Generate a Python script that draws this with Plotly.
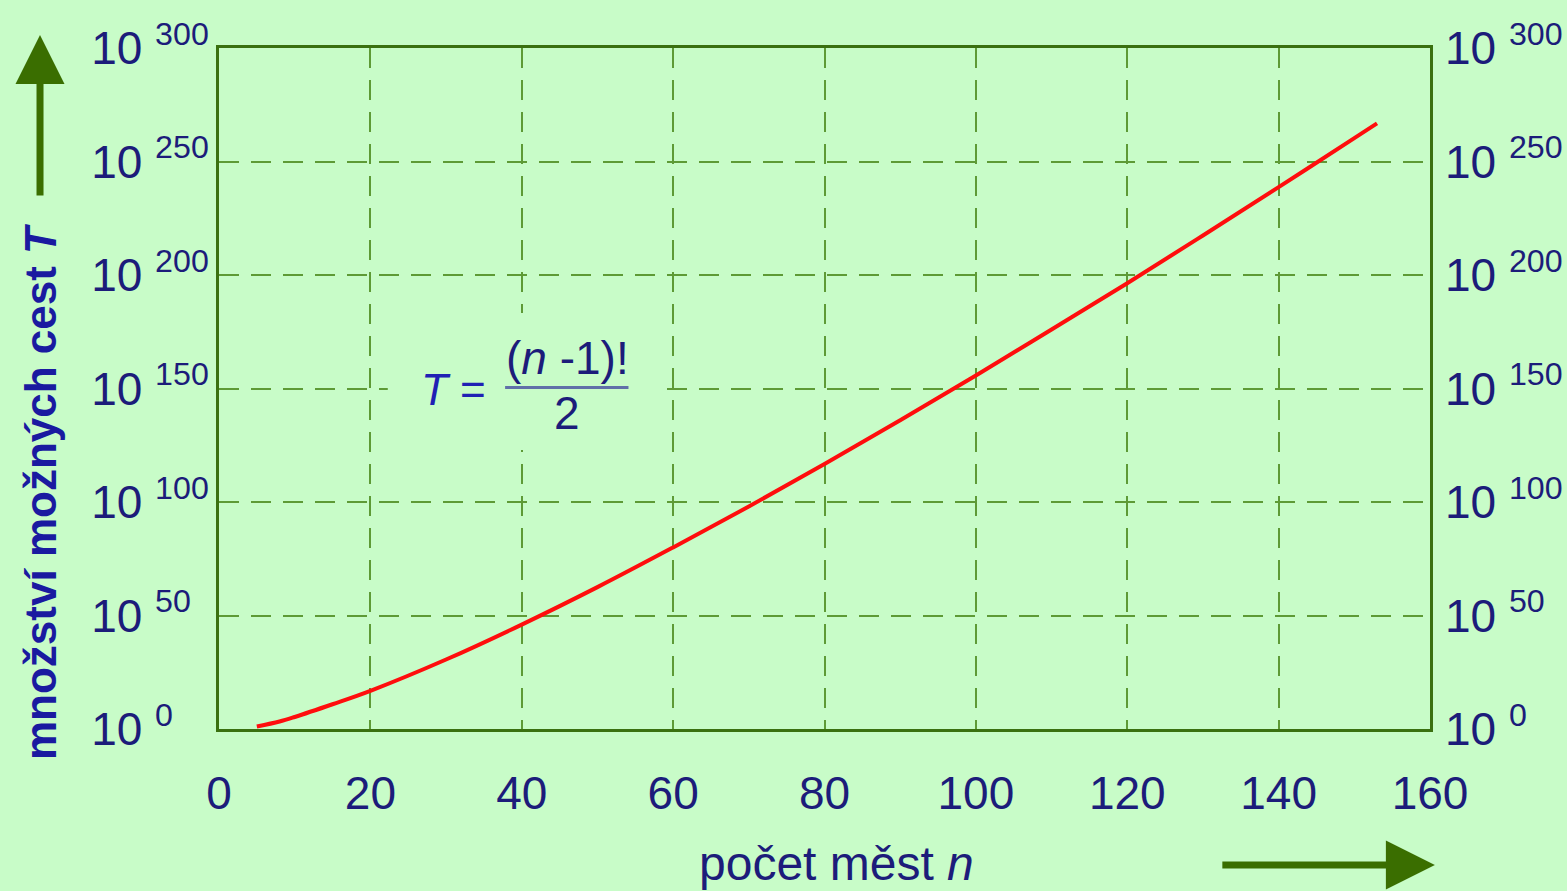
import plotly.graph_objects as go

# Number of cities n and the decimal exponent of T = (n-1)!/2
n_cities = [5, 8, 10, 15, 20, 30, 40, 50, 60, 70, 80, 90, 100, 110, 120, 130, 140, 150, 153]
log10_T = [1.1, 3.3, 5.3, 10.9, 16.8, 30.6, 46, 62.5, 80, 98, 116.7, 136, 155.7, 176, 196.4, 217.4, 238.7, 260.3, 266.8]

x_ticks = [0, 20, 40, 60, 80, 100, 120, 140, 160]
y_ticks = [0, 50, 100, 150, 200, 250, 300]

NBSP = "\u00a0"


def power_label(exp):
    # pad short exponents with half-digit spaces so every "10" lines up
    pad = NBSP * (2 * (3 - len(str(exp))))
    return "10 <sup>%d%s</sup>" % (exp, pad)


y_ticktext_left = [power_label(v) for v in y_ticks]
y_ticktext_right = ["10 <sup>%d</sup>" % v for v in y_ticks]

BG = "#c8fcc8"
GRID = "#5e9a36"
FRAME = "#3a7010"
ARROW = "#3a6e00"
NAVY = "#1c1c7a"
BLUE = "#2020b4"
FONT = "Liberation Sans, Arial, sans-serif"
TICK_SIZE = 46

fig = go.Figure()
fig.add_trace(go.Scatter(
    x=n_cities, y=log10_T, mode="lines", line=dict(color="#ff0d0d", width=4, shape="spline"),
    hoverinfo="skip", showlegend=False))
# same series on the mirrored right-hand axis (invisible) so that axis is drawn
fig.add_trace(go.Scatter(
    x=n_cities, y=log10_T, mode="lines", yaxis="y2", line=dict(color="rgba(0,0,0,0)", width=0),
    hoverinfo="skip", showlegend=False))

axis_common = dict(
    showgrid=True, gridcolor=GRID, gridwidth=2, griddash="20px,12px",
    showline=True, linecolor=FRAME, linewidth=3, zeroline=False, automargin=False,
    tickfont=dict(family=FONT, size=TICK_SIZE, color=NAVY),
)

fig.update_layout(
    width=1567, height=891,
    margin=dict(l=219, r=137, t=48, b=162),
    paper_bgcolor=BG, plot_bgcolor=BG,
    xaxis=dict(range=[0, 160], tickvals=x_ticks, ticks="outside", ticklen=22,
               tickcolor="rgba(0,0,0,0)", mirror=True, **axis_common),
    yaxis=dict(range=[0, 300], tickvals=y_ticks, ticktext=y_ticktext_left, ticks="",
               ticklabelstandoff=-2, mirror=True, **axis_common),
    yaxis2=dict(range=[0, 300], tickvals=y_ticks, ticktext=y_ticktext_right, overlaying="y",
                side="right", ticks="", ticklabelstandoff=14,
                showgrid=False, showline=False, zeroline=False, automargin=False,
                tickfont=dict(family=FONT, size=TICK_SIZE, color=NAVY)),
    showlegend=False,
)

# backing panel behind the formula hides the grid there
fig.add_shape(type="rect", xref="x", yref="y", x0=22.3, x1=58.3, y0=122.9, y1=183.3,
              fillcolor=BG, line=dict(width=0), layer="between")
# fraction bar
fig.add_shape(type="line", xref="x", yref="y", x0=37.8, x1=54.1, y0=150.4, y1=150.4,
              line=dict(color="#6070a8", width=3))

fig.add_annotation(x=31.0, y=149.5, xref="x", yref="y", showarrow=False,
                   text="<i>T</i> =", font=dict(family=FONT, size=44, color=BLUE))
fig.add_annotation(x=46.0, y=163.5, xref="x", yref="y", showarrow=False,
                   text="(<i>n</i> -1)!", font=dict(family=FONT, size=46, color=NAVY))
fig.add_annotation(x=46.0, y=139.0, xref="x", yref="y", showarrow=False,
                   text="2", font=dict(family=FONT, size=46, color=NAVY))

# axis titles
fig.add_annotation(x=-0.1478, y=0.348, xref="paper", yref="paper", showarrow=False,
                   xanchor="center", yanchor="middle",
                   textangle=-90, text="<b>množství možných cest <i>T</i></b>",
                   font=dict(family=FONT, size=44, color="#1a1aa0"))
fig.add_annotation(x=0.510, y=-0.197, xref="paper", yref="paper", showarrow=False,
                   xanchor="center", yanchor="middle",
                   text="počet měst <i>n</i>",
                   font=dict(family=FONT, size=48, color=NAVY))

# direction arrows
fig.add_annotation(x=-0.1478, y=1.019, xref="paper", yref="paper", ax=0, ay=162,
                   axref="pixel", ayref="pixel", text="", showarrow=True,
                   arrowhead=2, arrowsize=1.4, arrowwidth=7, arrowcolor=ARROW)
fig.add_annotation(x=1.004, y=-0.1997, xref="paper", yref="paper", ax=-214, ay=0,
                   axref="pixel", ayref="pixel", text="", showarrow=True,
                   arrowhead=2, arrowsize=1.4, arrowwidth=7, arrowcolor=ARROW)

fig.write_html("out.html")
